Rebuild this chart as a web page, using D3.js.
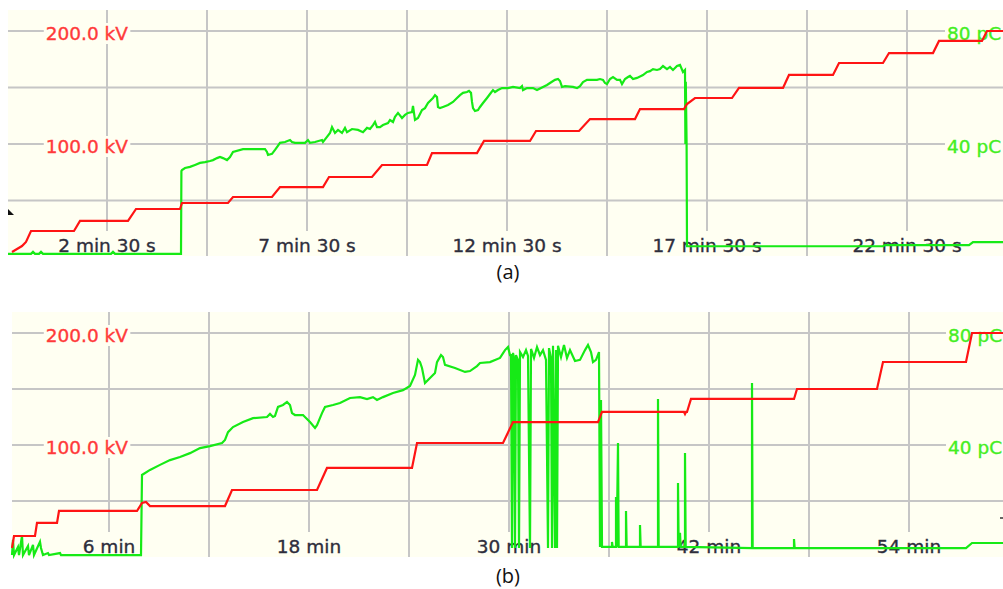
<!DOCTYPE html>
<html><head><meta charset="utf-8">
<script src="https://cdn.jsdelivr.net/npm/d3@7"></script>
<style>html,body{margin:0;padding:0;background:#fff;} svg{display:block;}</style>
</head><body>
<svg id="c" width="1003" height="589"></svg>
<script>
// ---------- DATA ----------
// Panel (a): time in minutes, voltage in kV (red), PD charge in pC (green)
const redA = [[0.125,4.4],[0.375,9.7],[0.475,13.3],[0.6,23.0],[1.675,23.0],[1.825,31.9],[3.025,31.9],[3.225,42.5],[4.325,42.5],[4.375,47.8],[5.525,47.8],[5.65,53.1],[6.625,53.1],[6.825,61.9],[7.9,61.9],[8.05,70.8],[9.125,70.8],[9.375,81.4],[10.5,81.4],[10.625,92.0],[11.75,92.0],[11.925,102.7],[13.075,102.7],[13.225,111.5],[14.3,111.5],[14.575,122.1],[15.7,122.1],[15.825,130.9],[16.925,130.9],[17.0,135.4],[17.2,140.7],[18.125,140.7],[18.3,149.6],[19.4,149.6],[19.55,161.1],[20.65,161.1],[20.8,171.7],[21.9,171.7],[22.05,180.5],[23.15,180.5],[23.3,191.2],[24.375,191.2],[24.5,200],[24.9,200]];
const greenA = [[0.025,1.1],[0.6,1.1],[0.65,1.8],[0.7,1.1],[0.8,1.1],[0.85,1.8],[0.9,1.1],[2.6,1.1],[2.65,1.8],[2.7,1.1],[4.35,1.1],[4.36,30.4],
[4.375,30.8],[4.45,31.5],[4.575,31.9],[4.7,32.6],[4.825,33.3],[4.95,33.6],[5.075,34.0],[5.15,34.3],[5.25,35.0],[5.325,35.4],[5.4,35.0],[5.5,34.3],[5.575,35.4],[5.65,37.2],[5.9,38.2],[6.45,38.2],[6.5,37.2],[6.525,36.1],[6.625,36.5],[6.7,37.9],[6.75,38.9],[6.825,40.4],[6.95,40.7],[7.075,41.4],[7.125,40.7],[7.2,40.4],[7.45,40.4],[7.525,41.4],[7.575,40.4],[7.7,40.7],[7.875,41.4],[7.9,40.7],[8.0,42.5],[8.075,43.9],[8.125,46.0],[8.2,43.9],[8.275,45.0],[8.375,43.9],[8.45,45.7],[8.5,44.2],[8.625,45.3],[8.775,45.0],[8.9,44.2],[9.0,45.7],[9.075,45.3],[9.15,46.7],[9.2,47.8],[9.25,46.0],[9.325,46.0],[9.4,46.7],[9.525,47.4],[9.575,48.5],[9.65,47.8],[9.7,49.6],[9.775,51.0],[9.875,49.2],[9.95,50.3],[10.025,51.0],[10.125,51.3],[10.15,53.5],[10.2,48.5],[10.275,49.2],[10.375,52.0],[10.45,52.7],[10.525,54.5],[10.65,56.3],[10.7,57.3],[10.75,56.6],[10.775,53.1],[10.825,52.7],[10.9,53.1],[11.025,53.8],[11.15,54.9],[11.25,56.3],[11.325,57.3],[11.4,58.1],[11.5,58.4],[11.55,58.8],[11.6,58.1],[11.625,54.9],[11.65,52.7],[11.7,51.7],[11.775,52.0],[11.825,53.1],[11.9,54.5],[12.0,56.3],[12.075,57.7],[12.15,59.1],[12.2,58.4],[12.275,59.1],[12.375,59.8],[12.525,59.8],[12.65,60.2],[12.825,59.8],[12.875,60.5],[12.9,59.1],[13.0,59.8],[13.15,59.8],[13.25,59.1],[13.4,60.2],[13.5,60.9],[13.575,61.6],[13.7,62.7],[13.775,63.0],[13.825,62.3],[13.875,60.2],[13.95,60.5],[14.15,60.2],[14.25,59.8],[14.325,60.5],[14.4,61.9],[14.5,62.7],[14.75,62.7],[14.825,63.0],[14.9,62.7],[14.95,61.6],[15.0,61.2],[15.075,63.0],[15.15,63.7],[15.25,62.7],[15.325,62.7],[15.375,61.2],[15.45,63.0],[15.525,63.7],[15.575,64.1],[15.65,63.0],[15.75,63.4],[15.9,64.4],[16.0,65.5],[16.075,65.8],[16.15,66.5],[16.25,66.2],[16.325,66.5],[16.4,67.6],[16.5,66.5],[16.575,67.3],[16.65,66.2],[16.75,67.6],[16.825,68.0],[16.9,65.5],[16.95,66.2],
[16.96,40.0],[16.97,62.0],[16.99,40.0],[17.0,3.8],[21.9,3.8],[21.95,4.2],[24.05,4.2],[24.15,5.3],[24.9,5.3]];

// Panel (b)
const redB = [[0.18,8.0],[0.3,18.75],[1.56,18.75],[1.68,30.4],[2.88,30.4],[3.0,41.1],[7.68,41.1],[7.98,48.2],[8.22,49.1],[8.46,45.5],[12.96,45.5],[13.38,59.8],[18.48,59.8],[19.08,79.5],[24.18,79.5],[24.48,101.8],[29.64,101.8],[30.24,120.5],[35.34,120.5],[35.58,129.5],[40.5,129.5],[40.56,127.7],[40.62,129.5],[40.68,129.5],[40.92,141.1],[47.1,141.1],[47.28,150],[52.08,150],[52.44,174.1],[57.42,174.1],[57.78,200],[59.64,200]];
const greenB = [[0.18,0.7],[0.24,6.1],[0.3,0.7],[0.54,3.6],[0.6,0.7],[0.78,7.5],[0.84,0.7],[1.14,3.9],[1.2,0.7],[1.44,4.3],[1.5,0.7],[1.86,5.4],[1.92,3.2],[2.04,0.7],[2.34,1.4],[2.4,0.7],[3.06,1.4],[3.12,0.7],[7.92,0.7],[7.98,29.3],
[8.46,31.1],[9.06,32.9],[9.66,34.6],[10.26,35.7],[10.86,37.1],[11.46,38.9],[12.06,39.6],[12.78,40.7],[12.96,41.8],[13.14,44.6],[13.44,46.4],[14.04,48.2],[14.64,49.6],[15.48,50.0],[15.66,51.1],[15.84,50.0],[15.96,50.4],[16.14,53.6],[16.44,54.3],[16.68,55.4],[16.86,54.3],[16.98,51.4],[17.16,50.7],[17.64,50.7],[18.06,48.2],[18.36,46.1],[18.48,47.1],[18.78,51.4],[18.96,53.6],[19.44,54.3],[19.86,55.0],[20.46,56.8],[21.06,57.1],[21.48,56.4],[21.84,57.1],[22.08,56.1],[22.44,57.1],[23.04,58.6],[23.64,59.6],[24.06,61.1],[24.36,65.0],[24.54,70.4],[24.66,69.6],[24.78,67.5],[24.96,62.1],[25.26,63.9],[25.56,65.7],[25.68,69.6],[25.92,72.1],[26.04,71.4],[26.16,68.6],[26.76,67.5],[27.36,66.1],[27.66,66.4],[28.08,68.2],[28.26,69.3],[28.86,69.6],[29.46,71.1],[29.76,73.9],[29.94,75.0],[30.06,72.1],
[30.12,72.1],[30.18,3.2],[30.24,72.9],[30.3,71.1],[30.36,3.2],[30.42,72.1],[30.54,70.4],[30.6,3.2],[30.66,73.2],[30.84,71.4],[31.02,73.9],[31.14,71.8],[31.26,3.2],[31.32,74.3],[31.5,71.1],[31.68,75.0],[31.86,72.1],[32.04,73.9],[32.22,70.4],[32.34,3.2],[32.4,74.6],[32.52,71.1],[32.58,3.2],[32.64,75.4],[32.76,3.2],[32.82,73.9],[32.88,3.2],[32.94,75.4],[33.12,71.4],[33.3,75.7],[33.48,71.1],[33.66,73.9],[33.96,70.0],[34.26,70.4],[34.56,73.9],[34.74,75.7],[34.92,73.2],[35.04,69.6],[35.22,70.4],[35.4,73.2],[35.46,3.6],[35.52,56.1],[35.58,3.6],
[36.18,3.6],[36.18,5.4],[36.22,3.6],[36.42,3.6],[36.42,21.4],[36.46,3.6],[36.54,40.7],[36.58,3.6],[37.02,3.6],[37.02,16.4],[37.06,3.6],[37.86,3.6],[37.86,11.4],[37.9,3.6],[38.94,3.6],[38.94,56.4],[38.98,3.6],[40.14,3.6],[40.14,26.4],[40.18,3.6],[40.26,8.6],[40.3,3.6],[40.56,3.6],[40.56,37.1],[40.6,3.6],[44.58,3.2],[44.58,62.1],[44.62,3.2],[47.1,3.2],[47.1,6.4],[47.14,3.2],[57.42,3.2],[57.78,5.0],[59.64,5.0]];

// ticks
const kvGrid = [50, 100, 150, 200];
const kvLabels = [100, 200];
const pcLabels = [40, 80];
const gridA = [2.5, 5, 7.5, 10, 12.5, 15, 17.5, 20, 22.5];
const tickA = [2.5, 7.5, 12.5, 17.5, 22.5];
const tickTextA = ["2 min 30 s", "7 min 30 s", "12 min 30 s", "17 min 30 s", "22 min 30 s"];
const gridB = [6, 12, 18, 24, 30, 36, 42, 48, 54];
const tickB = [6, 18, 30, 42, 54];
const tickTextB = ["6 min", "18 min", "30 min", "42 min", "54 min"];

// ---------- DRAW ----------
const svg = d3.select("#c");
const BG = "#fffff2", GRID = "#c6c6c6", FONT = "DejaVu Sans, Verdana, sans-serif";

function drawPanel(cfg) {
  const g = svg.append("g");
  const x = d3.scaleLinear().domain(cfg.xDomain).range([cfg.left, cfg.right]);
  const yKV = d3.scaleLinear().domain([0, 200]).range([cfg.y0, cfg.y200]);
  const yPC = d3.scaleLinear().domain([0, 80]).range([cfg.y0, cfg.y200]);

  g.append("rect").attr("x", cfg.left).attr("y", cfg.top)
    .attr("width", cfg.right - cfg.left).attr("height", cfg.bottom - cfg.top).attr("fill", BG);

  g.selectAll(".hg").data(kvGrid).enter().append("line")
    .attr("x1", cfg.left).attr("x2", cfg.right)
    .attr("y1", d => yKV(d)).attr("y2", d => yKV(d))
    .attr("stroke", GRID).attr("stroke-width", 2);
  g.selectAll(".vg").data(cfg.grid).enter().append("line")
    .attr("x1", d => x(d)).attr("x2", d => x(d))
    .attr("y1", cfg.top).attr("y2", cfg.bottom)
    .attr("stroke", GRID).attr("stroke-width", 2);

  function boxed(sel, padX, padTop, toBottom) {
    sel.each(function() {
      const b = this.getBBox();
      d3.select(this.parentNode).insert("rect", () => this)
        .attr("x", b.x - padX).attr("y", b.y - padTop)
        .attr("width", b.width + 2 * padX)
        .attr("height", toBottom ? cfg.bottom - (b.y - padTop) : b.height + padTop)
        .attr("fill", BG);
    });
  }

  const lg = g.append("g");
  const lt = lg.selectAll("text.kv").data(kvLabels).enter().append("text")
    .attr("x", cfg.kvX).attr("y", d => yKV(d) + 9)
    .attr("text-anchor", "end").attr("font-family", FONT).attr("font-size", 18.5)
    .attr("fill", "#ff3a3a").attr("stroke", "#ff3a3a").attr("stroke-width", 0.35)
    .text(d => d3.format(".1f")(d) + " kV");
  boxed(lt, 2, 0, false);
  const rt = lg.selectAll("text.pc").data(pcLabels).enter().append("text")
    .attr("x", cfg.pcX).attr("y", d => yPC(d) + 9)
    .attr("text-anchor", "start").attr("font-family", FONT).attr("font-size", 18.5)
    .attr("fill", "#44ee22").attr("stroke", "#44ee22").attr("stroke-width", 0.35)
    .text(d => d + " pC");
  boxed(rt, 2, 0, false);
  const bt = lg.selectAll("text.t").data(cfg.ticks).enter().append("text")
    .attr("x", d => x(d)).attr("y", cfg.labelBase)
    .attr("text-anchor", "middle").attr("font-family", FONT).attr("font-size", 18.5)
    .attr("fill", "#2e2e3c").attr("stroke", "#2e2e3c").attr("stroke-width", 0.35)
    .text((d, i) => cfg.tickText[i]);
  boxed(bt, 1, 4, true);

  const line = s => d3.line().x(d => x(d[0])).y(d => s(d[1]));
  g.append("path").datum(cfg.green).attr("d", line(yPC))
    .attr("fill", "none").attr("stroke", "#16ea16").attr("stroke-width", 2.2);
  g.append("path").datum(cfg.red).attr("d", line(yKV))
    .attr("fill", "none").attr("stroke", "#ff1414").attr("stroke-width", 2.2);

  svg.append("text").attr("x", 508).attr("y", cfg.capY).attr("text-anchor", "middle")
    .attr("font-family", "Open Sans, Noto Sans, sans-serif").attr("font-size", 20)
    .attr("fill", "#111").text(cfg.caption);
  return g;
}

const ga = drawPanel({red: redA, green: greenA, xDomain: [0.025, 24.9], left: 8, right: 1003,
  top: 10, bottom: 256, y0: 257, y200: 31, grid: gridA, ticks: tickA, tickText: tickTextA,
  labelBase: 252, kvX: 128, pcX: 947, caption: "(a)", capY: 279});
const gb = drawPanel({red: redB, green: greenB, xDomain: [0.18, 59.64], left: 12, right: 1003,
  top: 312, bottom: 557, y0: 557, y200: 333, grid: gridB, ticks: tickB, tickText: tickTextB,
  labelBase: 553, kvX: 128, pcX: 948, caption: "(b)", capY: 583});

// small cursor markers
ga.append("path").attr("d", "M8,209 L14,215 L8,215 Z").attr("fill", "#111");
gb.append("line").attr("x1", 1000).attr("x2", 1003).attr("y1", 518).attr("y2", 518).attr("stroke", "#333").attr("stroke-width", 1.5);
</script>
</body></html>
